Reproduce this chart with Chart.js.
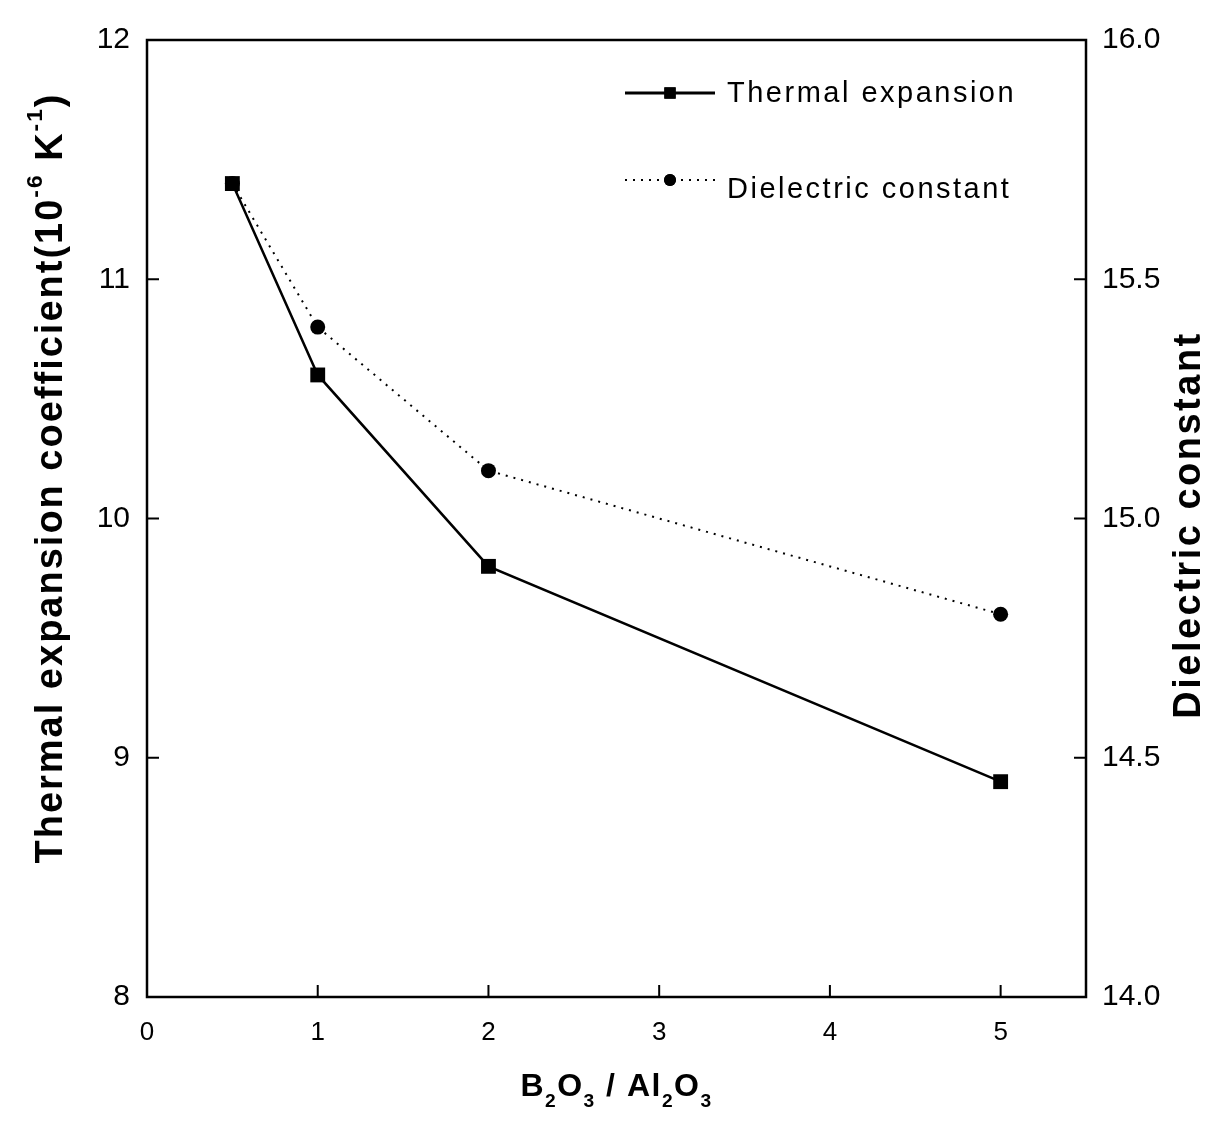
<!DOCTYPE html>
<html>
<head>
<meta charset="utf-8">
<script src="https://cdn.jsdelivr.net/npm/chart.js@4.4.0/dist/chart.umd.min.js"></script>
<style>
    html, body { margin: 0; padding: 0; background: #fff; }
</style>
</head>
<body>
<canvas id="grafico" width="1211" height="1124"></canvas>
<script>
// dados
var razaoB2O3 = [0.5, 1, 2, 5];
var expansaoTermica = [11.4, 10.6, 9.8, 8.9];
var constanteDieletrica = [15.7, 15.4, 15.1, 14.8];
var legendas = ['Thermal expansion', 'Dielectric constant'];

var fonteTicks = "'Liberation Sans Narrow', 'Liberation Sans', Arial, sans-serif";
var fonteTexto = "'Liberation Sans', Arial, sans-serif";

function montarPontos(xs, ys) {
    var pts = [];
    for (var i = 0; i < xs.length; i++) {
        pts.push({ x: xs[i], y: ys[i] });
    }
    return pts;
}

// desenha texto com sub/sobrescritos, centralizado em (0,0) ja transladado
function desenharTrechos(ctx, trechos, tam, espaco) {
    ctx.letterSpacing = espaco + 'px';
    var total = 0;
    trechos.forEach(function (t) {
        var s = t.tipo ? tam * 0.6 : tam;
        ctx.font = 'bold ' + s + 'px ' + fonteTexto;
        t.w = ctx.measureText(t.txt).width;
        total += t.w;
    });
    var x = -total / 2;
    trechos.forEach(function (t) {
        var s = t.tipo ? tam * 0.6 : tam;
        var dy = 0;
        if (t.tipo == 'sup') dy = -tam * 0.42;
        if (t.tipo == 'sub') dy = tam * 0.45;
        ctx.font = 'bold ' + s + 'px ' + fonteTexto;
        ctx.fillText(t.txt, x, dy);
        x += t.w;
    });
    ctx.letterSpacing = '0px';
}

var pluginMoldura = {
    id: 'moldura',
    beforeDatasetsDraw: function (chart) {
        var ctx = chart.ctx;
        var a = chart.chartArea;
        var sx = chart.scales.x, sy = chart.scales.y, sy2 = chart.scales.y2;
        ctx.save();
        ctx.strokeStyle = '#000';
        ctx.lineWidth = 2.5;
        ctx.strokeRect(a.left, a.top, a.right - a.left, a.bottom - a.top);
        ctx.lineWidth = 2;
        ctx.beginPath();
        sx.ticks.forEach(function (t) {
            var p = sx.getPixelForValue(t.value);
            ctx.moveTo(p, a.bottom);
            ctx.lineTo(p, a.bottom - 12);
        });
        sy.ticks.forEach(function (t) {
            var p = sy.getPixelForValue(t.value);
            ctx.moveTo(a.left, p);
            ctx.lineTo(a.left + 12, p);
        });
        sy2.ticks.forEach(function (t) {
            var p = sy2.getPixelForValue(t.value);
            ctx.moveTo(a.right, p);
            ctx.lineTo(a.right - 12, p);
        });
        ctx.stroke();
        ctx.restore();
    },
    afterDraw: function (chart) {
        var ctx = chart.ctx;
        var a = chart.chartArea;
        ctx.save();
        ctx.fillStyle = '#000';
        ctx.textBaseline = 'middle';

        // titulo eixo esquerdo
        ctx.save();
        ctx.translate(52, 478);
        ctx.rotate(-Math.PI / 2);
        desenharTrechos(ctx, [
            { txt: 'Thermal expansion coefficient(10' },
            { txt: '-6', tipo: 'sup' },
            { txt: ' K' },
            { txt: '-1', tipo: 'sup' },
            { txt: ')' }
        ], 38, 2);
        ctx.restore();

        // titulo eixo direito
        ctx.save();
        ctx.translate(1190, 525);
        ctx.rotate(-Math.PI / 2);
        desenharTrechos(ctx, [{ txt: 'Dielectric constant' }], 38, 2.5);
        ctx.restore();

        // titulo eixo x
        ctx.save();
        ctx.translate((a.left + a.right) / 2, 1087);
        desenharTrechos(ctx, [
            { txt: 'B' }, { txt: '2', tipo: 'sub' }, { txt: 'O' }, { txt: '3', tipo: 'sub' },
            { txt: ' / Al' }, { txt: '2', tipo: 'sub' }, { txt: 'O' }, { txt: '3', tipo: 'sub' }
        ], 32, 1.5);
        ctx.restore();

        // legenda
        var linhasY = [93, 180];
        var baseTexto = [102, 198];
        var raios = [8, 6];
        chart.data.datasets.forEach(function (ds, i) {
            var y = linhasY[i];
            ctx.save();
            ctx.strokeStyle = ds.borderColor;
            ctx.lineWidth = i == 0 ? 3 : 2;
            ctx.setLineDash(ds.borderDash || []);
            ctx.beginPath();
            ctx.moveTo(625, y);
            ctx.lineTo(715, y);
            ctx.stroke();
            ctx.setLineDash([]);
            ctx.fillStyle = '#000';
            Chart.helpers.drawPoint(ctx, { pointStyle: ds.pointStyle, radius: raios[i], borderWidth: 0 }, 670, y);
            ctx.fill();
            ctx.textBaseline = 'alphabetic';
            ctx.font = '29px ' + fonteTexto;
            ctx.letterSpacing = '2.5px';
            ctx.fillText(ds.label, 727, baseTexto[i]);
            ctx.restore();
        });
        ctx.restore();
    }
};

function criarGrafico() {
    var dados = {
        datasets: [{
            label: legendas[0],
            data: montarPontos(razaoB2O3, expansaoTermica),
            yAxisID: 'y',
            borderColor: '#000',
            backgroundColor: '#000',
            borderWidth: 2.5,
            pointStyle: 'rect',
            pointRadius: 10.5,
            pointBorderWidth: 0,
            tension: 0
        }, {
            label: legendas[1],
            data: montarPontos(razaoB2O3, constanteDieletrica),
            yAxisID: 'y2',
            borderColor: '#000',
            backgroundColor: '#000',
            borderWidth: 2,
            borderDash: [2, 6],
            pointStyle: 'circle',
            pointRadius: 7.5,
            pointBorderWidth: 0,
            tension: 0
        }]
    };

    var config = {
        type: 'line',
        data: dados,
        plugins: [pluginMoldura],
        options: {
            responsive: false,
            devicePixelRatio: 1,
            animation: false,
            layout: { padding: { top: 40, left: 0, right: 0, bottom: 0 } },
            plugins: {
                legend: { display: false },
                tooltip: { enabled: false }
            },
            scales: {
                x: {
                    type: 'linear',
                    min: 0,
                    max: 5.5,
                    grid: { display: false, drawTicks: false },
                    border: { display: false },
                    ticks: {
                        stepSize: 1,
                        includeBounds: false,
                        color: '#000',
                        padding: 20,
                        font: { family: fonteTicks, size: 26 }
                    },
                    afterFit: function (s) { s.height = 1124 - 997; }
                },
                y: {
                    position: 'left',
                    min: 8,
                    max: 12,
                    grid: { display: false, drawTicks: false },
                    border: { display: false },
                    ticks: {
                        stepSize: 1,
                        color: '#000',
                        padding: 17,
                        font: { family: fonteTicks, size: 30 }
                    },
                    afterFit: function (s) { s.width = 147; }
                },
                y2: {
                    position: 'right',
                    min: 14,
                    max: 16,
                    grid: { display: false, drawTicks: false },
                    border: { display: false },
                    ticks: {
                        stepSize: 0.5,
                        color: '#000',
                        padding: 16,
                        font: { family: fonteTicks, size: 30 },
                        callback: function (v) { return Number(v).toFixed(1); }
                    },
                    afterFit: function (s) { s.width = 1211 - 1086; }
                }
            }
        }
    };

    new Chart(document.getElementById('grafico'), config);
}

criarGrafico();
</script>
</body>
</html>
